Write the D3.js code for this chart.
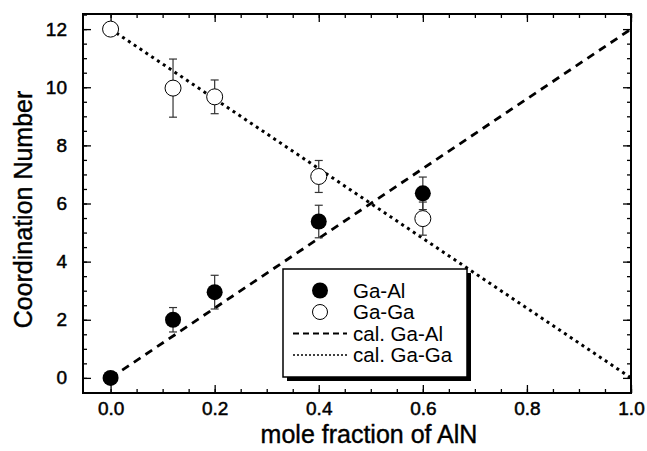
<!DOCTYPE html>
<html>
<head>
<meta charset="utf-8">
<script src="https://cdn.jsdelivr.net/npm/d3@7"></script>
<style>
  body { margin: 0; background: #fff; }
  svg { display: block; font-family: "Liberation Sans", Arial, sans-serif; }
</style>
</head>
<body>
<script>
// data
const fraction = [0.0, 0.12, 0.2, 0.4, 0.6];
const gaAl = [0.0, 2.0, 2.95, 5.38, 6.35];
const gaAlErr = [0, 0.42, 0.58, 0.56, 0.56];
const gaGa = [12.0, 9.97, 9.67, 6.93, 5.48];
const gaGaErr = [0, 1.0, 0.58, 0.55, 0.57];
const calGaAl = [[0, 0], [1, 12]];
const calGaGa = [[0, 12], [1, 0]];
const xTicks = [0.0, 0.2, 0.4, 0.6, 0.8, 1.0];
const yTicks = [0, 2, 4, 6, 8, 10, 12];
const legendNames = ["Ga-Al", "Ga-Ga", "cal. Ga-Al", "cal. Ga-Ga"];

var margin = {top: 14, right: 16, bottom: 58, left: 83};
var width = 647 - margin.left - margin.right;
var height = 451 - margin.top - margin.bottom;

var svg = d3.select("body").append("svg")
    .attr("width", 647)
    .attr("height", 451);
var g = svg.append("g")
    .attr("transform", "translate(" + margin.left + "," + margin.top + ")");

var x = d3.scaleLinear().domain([-0.053, 1.0]).range([0, width]);
var y = d3.scaleLinear().domain([-0.52, 12.52]).range([height, 0]);

// ticks, all pointing inward
var xMinor = d3.range(0, 1.0001, 0.05);
var yMinor = d3.range(0, 12.5001, 0.5);

function tickAxis(axis, scale, vals, len) {
    return axis(scale).tickValues(vals).tickSizeInner(-len).tickSizeOuter(0).tickFormat("");
}

// bottom
g.append("g").attr("transform", "translate(0," + height + ")")
    .call(tickAxis(d3.axisBottom, x, xMinor, 4));
g.append("g").attr("class", "lab").attr("transform", "translate(0," + height + ")")
    .call(d3.axisBottom(x).tickValues(xTicks).tickSizeInner(-8).tickSizeOuter(0).tickPadding(9).tickFormat(d3.format(".1f")));
// top
g.append("g").call(tickAxis(d3.axisTop, x, xMinor, 4));
g.append("g").call(tickAxis(d3.axisTop, x, xTicks, 8));
// left
g.append("g").call(tickAxis(d3.axisLeft, y, yMinor, 4));
g.append("g").attr("class", "lab")
    .call(d3.axisLeft(y).tickValues(yTicks).tickSizeInner(-8).tickSizeOuter(0).tickPadding(16).tickFormat(d3.format("d")));
// right
g.append("g").attr("transform", "translate(" + width + ",0)")
    .call(tickAxis(d3.axisRight, y, yMinor, 4));
g.append("g").attr("transform", "translate(" + width + ",0)")
    .call(tickAxis(d3.axisRight, y, yTicks, 8));

g.selectAll(".domain").remove();
g.selectAll(".tick line").attr("stroke", "#000").attr("stroke-width", 1.3);
g.selectAll(".lab text")
    .attr("font-size", 19)
    .attr("fill", "#000")
    .attr("font-family", "Liberation Sans, Arial, sans-serif")
    .attr("stroke", "#000").attr("stroke-width", 0.5);

// frame
g.append("rect")
    .attr("width", width).attr("height", height)
    .attr("fill", "none").attr("stroke", "#000").attr("stroke-width", 2);

// calculated lines
var line = d3.line().x(d => x(d[0])).y(d => y(d[1]));
g.append("path").datum(calGaAl)
    .attr("d", line).attr("fill", "none").attr("stroke", "#000")
    .attr("stroke-width", 2.8).attr("stroke-dasharray", "8,6");
g.append("path").datum(calGaGa)
    .attr("d", line).attr("fill", "none").attr("stroke", "#000")
    .attr("stroke-width", 3).attr("stroke-dasharray", "3,4");

// error bars
function errBars(vals, errs) {
    var eb = g.append("g").attr("stroke", "#333").attr("stroke-width", 1.2);
    fraction.forEach(function(f, i) {
        if (errs[i] <= 0) return;
        var cx = x(f), y1 = y(vals[i] + errs[i]), y2 = y(vals[i] - errs[i]);
        eb.append("line").attr("x1", cx).attr("x2", cx).attr("y1", y1).attr("y2", y2);
        eb.append("line").attr("x1", cx - 4).attr("x2", cx + 4).attr("y1", y1).attr("y2", y1);
        eb.append("line").attr("x1", cx - 4).attr("x2", cx + 4).attr("y1", y2).attr("y2", y2);
    });
}
errBars(gaAl, gaAlErr);
errBars(gaGa, gaGaErr);

// markers
g.selectAll(".open").data(fraction).enter().append("circle")
    .attr("cx", d => x(d)).attr("cy", (d, i) => y(gaGa[i])).attr("r", 8)
    .attr("fill", "#fff").attr("stroke", "#000").attr("stroke-width", 1);
g.selectAll(".filled").data(fraction).enter().append("circle")
    .attr("cx", d => x(d)).attr("cy", (d, i) => y(gaAl[i])).attr("r", 8)
    .attr("fill", "#000");

// legend
var lg = svg.append("g").attr("transform", "translate(283,269)");
lg.append("rect").attr("x", 4).attr("y", 4).attr("width", 184).attr("height", 108).attr("fill", "#000");
lg.append("rect").attr("width", 184).attr("height", 108)
    .attr("fill", "#fff").attr("stroke", "#000").attr("stroke-width", 1.5);
legendNames.forEach(function(name, i) {
    var ry = 21.5 + i * 21.5;
    if (i == 0) lg.append("circle").attr("cx", 37).attr("cy", ry).attr("r", 8).attr("fill", "#000");
    if (i == 1) lg.append("circle").attr("cx", 37).attr("cy", ry).attr("r", 7.5)
        .attr("fill", "#fff").attr("stroke", "#000").attr("stroke-width", 1);
    if (i == 2) lg.append("line").attr("x1", 10).attr("x2", 64).attr("y1", ry).attr("y2", ry)
        .attr("stroke", "#000").attr("stroke-width", 1.8).attr("stroke-dasharray", "6,4");
    if (i == 3) lg.append("line").attr("x1", 10).attr("x2", 64).attr("y1", ry).attr("y2", ry)
        .attr("stroke", "#000").attr("stroke-width", 1.5).attr("stroke-dasharray", "2,2");
    lg.append("text").attr("x", 70).attr("y", ry + 7)
        .attr("font-size", 20.5).attr("fill", "#000").text(name);
});

// axis titles
svg.append("text")
    .attr("x", margin.left + width / 2 + 12).attr("y", 443)
    .attr("text-anchor", "middle").attr("font-size", 25).attr("fill", "#000")
    .attr("stroke", "#000").attr("stroke-width", 0.4)
    .text("mole fraction of AlN");
svg.append("text")
    .attr("transform", "translate(32," + (margin.top + height / 2 + 6) + ") rotate(-90)")
    .attr("text-anchor", "middle").attr("font-size", 25).attr("fill", "#000")
    .attr("stroke", "#000").attr("stroke-width", 0.4)
    .text("Coordination Number");
</script>
</body>
</html>
